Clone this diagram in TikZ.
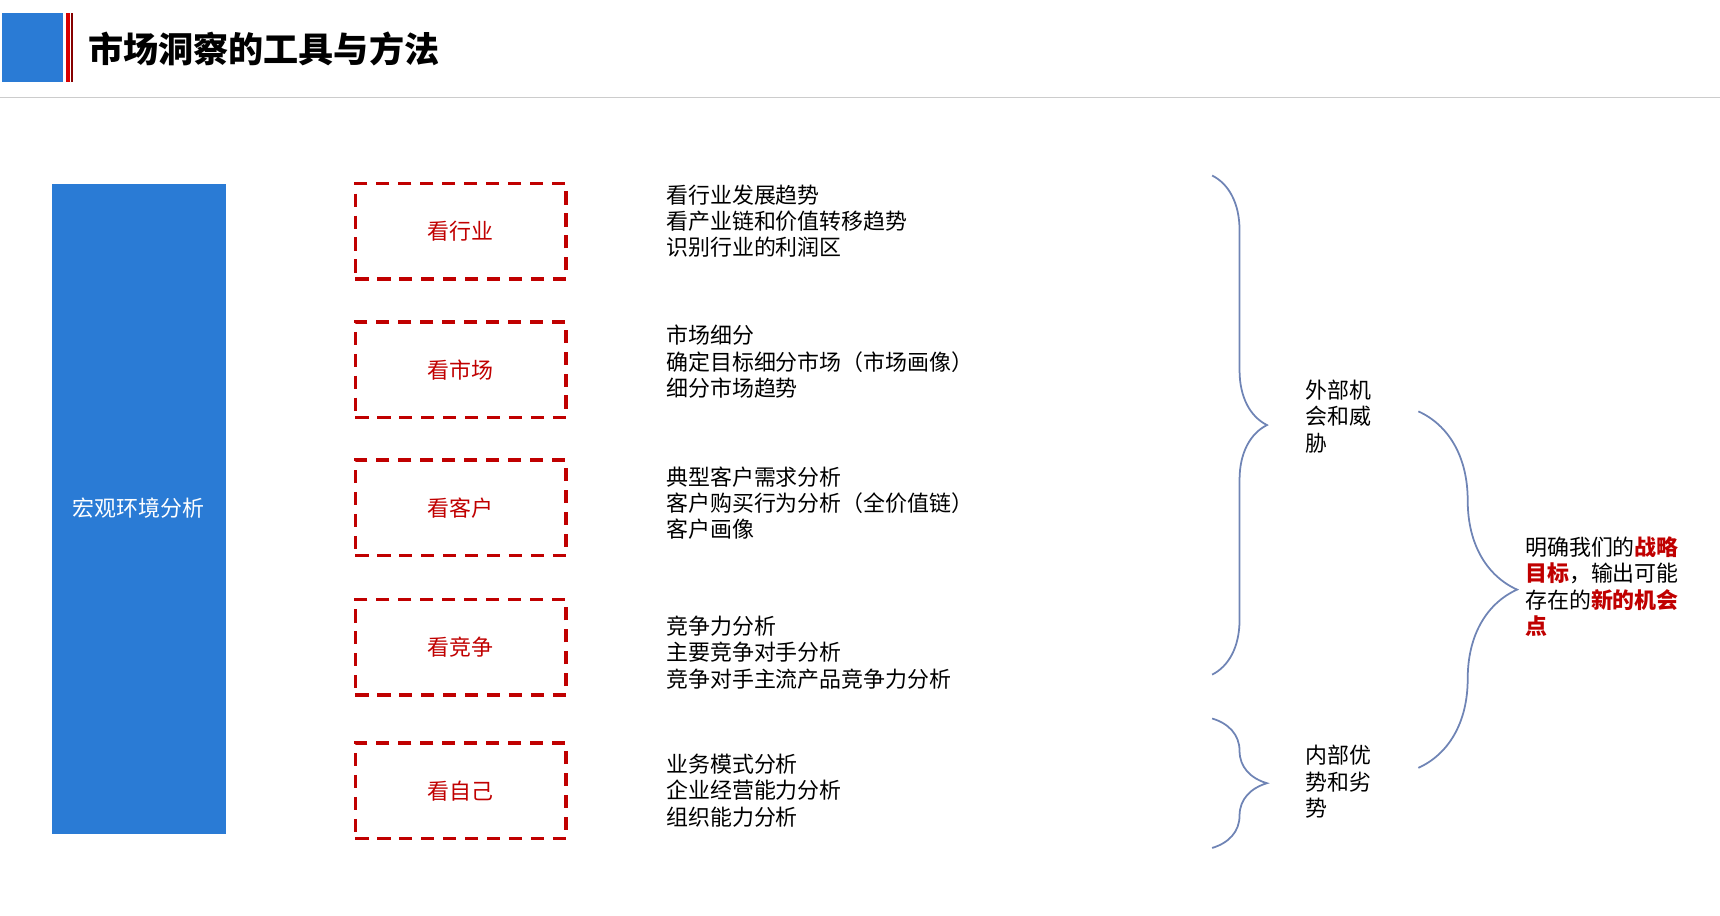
\documentclass[tikz,border=0pt]{standalone}
\usepackage{fontspec}
\setmainfont{Noto Sans CJK SC}
\usetikzlibrary{decorations.pathreplacing}
\definecolor{hblue}{HTML}{2A7BD5}
\definecolor{dred}{HTML}{C00000}
\definecolor{brc}{HTML}{6F84B5}
\begin{document}
\begin{tikzpicture}[x=0.5pt,y=-0.5pt,
  box/.style={draw=dred,line width=1.6pt,dash pattern=on 6pt off 4pt,minimum width=96pt,minimum height=43.5pt,text=dred,font=\fontsize{10}{12}\selectfont},
  lst/.style={anchor=north west,align=left,inner sep=0pt,font=\fontsize{10}{12}\selectfont},
  br/.style={draw=brc,line width=0.8pt,decorate,decoration={brace,amplitude=#1}}]
\useasboundingbox (0,0) rectangle (1568,835);
\fill[hblue] (2,12) rectangle (57,75);
\fill[red!85!black] (60,12) rectangle (64,75);
\fill[dred!70!black] (65,12) rectangle (67,75);
\node[anchor=west,inner sep=0pt,font=\fontsize{16}{18}\selectfont\bfseries] (title) at (80,45) {市场洞察的工具与方法};
\draw[gray!40,line width=0.6pt] (0,89) -- (1568,89);
\fill[hblue] (47,168) rectangle (206,760);
\node[text=white,font=\fontsize{10}{12}\selectfont] (macro) at (126,463) {宏观环境分析};
\node[box] (b1) at (420,211) {看行业};
\node[box] (b2) at (420,337) {看市场};
\node[box] (b3) at (420,463) {看客户};
\node[box] (b4) at (420,590) {看竞争};
\node[box] (b5) at (420,721) {看自己};
\node[lst] (t1) at (607,168) {看行业发展趋势\\看产业链和价值转移趋势\\识别行业的利润区};
\node[lst] (t2) at (607,296) {市场细分\\确定目标细分市场（市场画像）\\细分市场趋势};
\node[lst] (t3) at (607,425) {典型客户需求分析\\客户购买行为分析（全价值链）\\客户画像};
\node[lst] (t4) at (607,561) {竞争力分析\\主要竞争对手分析\\竞争对手主流产品竞争力分析};
\node[lst] (t5) at (607,687) {业务模式分析\\企业经营能力分析\\组织能力分析};
\coordinate (a1) at (1105,160); \coordinate (a2) at (1105,615);
\coordinate (c1) at (1105,655); \coordinate (c2) at (1105,773);
\coordinate (d1) at (1293,375); \coordinate (d2) at (1293,700);
\draw[br=25] (a1) -- (a2);
\draw[br=25] (c1) -- (c2);
\draw[br=45] (d1) -- (d2);
\node[lst] (ext) at (1190,346) {外部机\\会和威\\胁};
\node[lst] (int) at (1190,679) {内部优\\势和劣\\势};
\node[lst] (res) at (1390,489) {明确我们的\textcolor{dred}{\bfseries 战略}\\\textcolor{dred}{\bfseries 目标}，输出可能\\存在的\textcolor{dred}{\bfseries 新的机会}\\\textcolor{dred}{\bfseries 点}};
\end{tikzpicture}
\end{document}
